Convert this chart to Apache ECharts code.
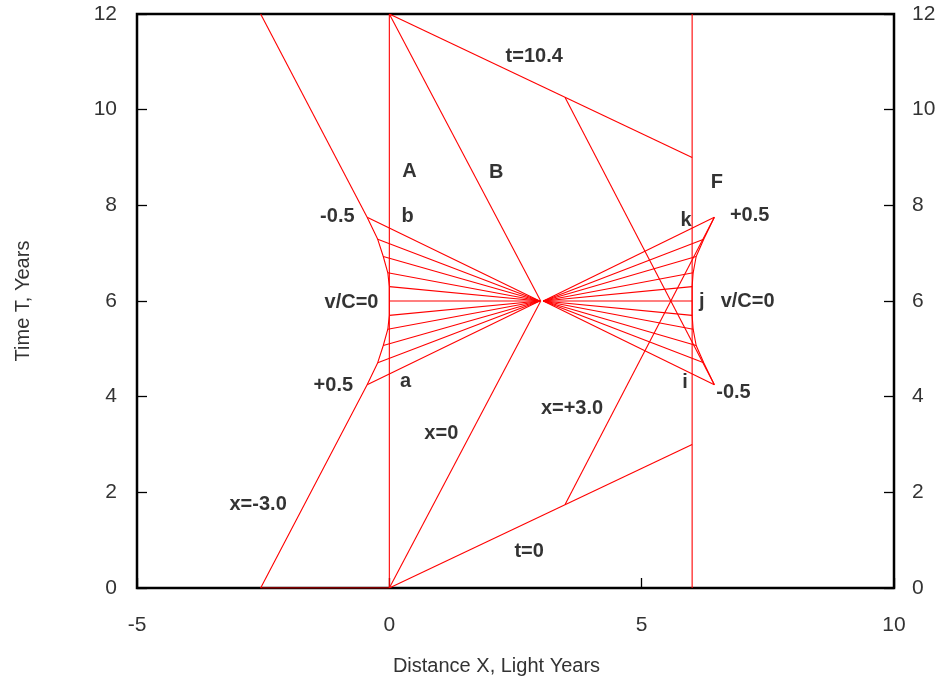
<!DOCTYPE html>
<html>
<head>
<meta charset="utf-8">
<script src="https://cdn.jsdelivr.net/npm/echarts@6/dist/echarts.min.js"></script>
<style>
html,body{margin:0;padding:0;background:#fff;}
#chart{width:943px;height:683px;}
</style>
</head>
<body>
<div id="chart"></div>
<script>
// ---- data ----
const xTickValues = [-5, 0, 5, 10];
const yTickValues = [0, 2, 4, 6, 8, 10, 12];

// event curves (v/C from +0.5 / -0.5 through 0) on left and right
const curveY      = [7.75, 7.29, 6.93, 6.59, 6.30, 6.00, 5.70, 5.41, 5.07, 4.71, 4.25];
const leftCurveX  = [-0.44, -0.23, -0.12, -0.03, 0, 0, 0, -0.03, -0.12, -0.23, -0.44];
const rightCurveX = [6.44, 6.23, 6.08, 6.02, 6, 6, 6, 6.02, 6.08, 6.23, 6.44];
const leftApex  = [2.98, 6];
const rightApex = [3.05, 6];

// straight world / light lines
const worldLineA     = [[0, 0], [0, 12]];
const worldLineF     = [[6, 0], [6, 12]];
const simultT0       = [[0, 0], [6, 3]];
const simultT104     = [[0, 12], [6, 9]];
const lightB         = [[0, 12], [3, 6]];
const lightX0        = [[0, 0], [3, 6]];
const leftOuterLow   = [[0, 0], [-2.55, 0], [-0.44, 4.25]];
const leftOuterHigh  = [[-0.44, 7.75], [-2.55, 12]];
const rightOuterLow  = [[3.48, 1.74], [6.44, 7.75]];
const rightOuterHigh = [[3.48, 10.26], [6.44, 4.25]];

// text annotations (data coordinates)
const labelText = ['t=10.4', 'A', 'B', 'F', '-0.5', 'b', 'k', '+0.5', 'v/C=0', 'j', 'v/C=0', '+0.5', 'a', 'i', '-0.5', 'x=0', 'x=+3.0', 'x=-3.0', 't=0'];
const labelX    = [2.87, 0.40, 2.12, 6.49, -1.03, 0.36, 5.88, 7.14, -0.75, 6.19, 7.10, -1.11, 0.32, 5.86, 6.82, 1.03, 3.62, -2.60, 2.77];
const labelY    = [11.12, 8.70, 8.68, 8.47, 7.76, 7.76, 7.69, 7.78, 5.96, 5.98, 5.98, 4.24, 4.31, 4.29, 4.08, 3.22, 3.76, 1.74, 0.77];

// ---- build series ----
const RED = '#ff0000';
function lineSeries(points) {
  return {
    type: 'line', data: points, showSymbol: false, symbol: 'none',
    lineStyle: {color: RED, width: 1.1}, silent: true, animation: false, z: 2
  };
}
const polylines = [worldLineA, worldLineF, simultT0, simultT104, lightB, lightX0,
  leftOuterLow, leftOuterHigh, rightOuterLow, rightOuterHigh];
const leftCurve = curveY.map((y, i) => [leftCurveX[i], y]);
const rightCurve = curveY.map((y, i) => [rightCurveX[i], y]);
polylines.push(leftCurve, rightCurve);
leftCurve.forEach(p => polylines.push([p, leftApex]));
rightCurve.forEach(p => polylines.push([p, rightApex]));

const series = polylines.map(lineSeries);
series.push({
  type: 'scatter', symbolSize: 1, animation: false, silent: true, z: 5,
  itemStyle: {color: 'transparent'},
  data: labelText.map((t, i) => ({value: [labelX[i], labelY[i]], name: t})),
  label: {
    show: true, position: 'inside', formatter: p => p.name,
    color: '#000', fontWeight: 'bold', fontSize: 20, fontFamily: 'Liberation Sans, Arial, sans-serif',
    align: 'center', verticalAlign: 'middle'
  }
});

const axisFont = {color: '#333', fontSize: 21, fontFamily: 'Liberation Sans, Arial, sans-serif'};
const yAxisBase = {
  type: 'value', min: yTickValues[0], max: yTickValues[yTickValues.length - 1],
  interval: yTickValues[1] - yTickValues[0],
  axisLine: {show: false, onZero: false}, splitLine: {show: false},
  axisTick: {show: true, inside: true, length: 10, lineStyle: {color: '#000', width: 1.3}}
};

const chart = echarts.init(document.getElementById('chart'));
chart.setOption({
  backgroundColor: '#fff',
  animation: false,
  grid: {left: 137, right: 49, top: 14, bottom: 95, show: true, borderColor: '#000', borderWidth: 2.5, backgroundColor: 'transparent'},
  xAxis: {
    type: 'value', min: xTickValues[0], max: xTickValues[xTickValues.length - 1],
    interval: xTickValues[1] - xTickValues[0],
    axisLine: {show: false, onZero: false}, splitLine: {show: false},
    axisTick: {show: true, inside: true, length: 10, lineStyle: {color: '#000', width: 1.3}},
    axisLabel: Object.assign({margin: 27}, axisFont),
    name: 'Distance X, Light Years', nameLocation: 'middle', nameGap: 68,
    nameTextStyle: Object.assign({padding: [0, 38, 0, 0]}, axisFont, {fontSize: 20})
  },
  yAxis: [
    Object.assign({}, yAxisBase, {
      position: 'left',
      axisLabel: Object.assign({margin: 20}, axisFont),
      name: 'Time T, Years', nameLocation: 'middle', nameGap: 104, nameRotate: 90,
      nameTextStyle: Object.assign({}, axisFont, {fontSize: 20})
    }),
    Object.assign({}, yAxisBase, {
      position: 'right',
      axisLabel: Object.assign({margin: 18}, axisFont)
    })
  ],
  series: series
});
</script>
</body>
</html>
